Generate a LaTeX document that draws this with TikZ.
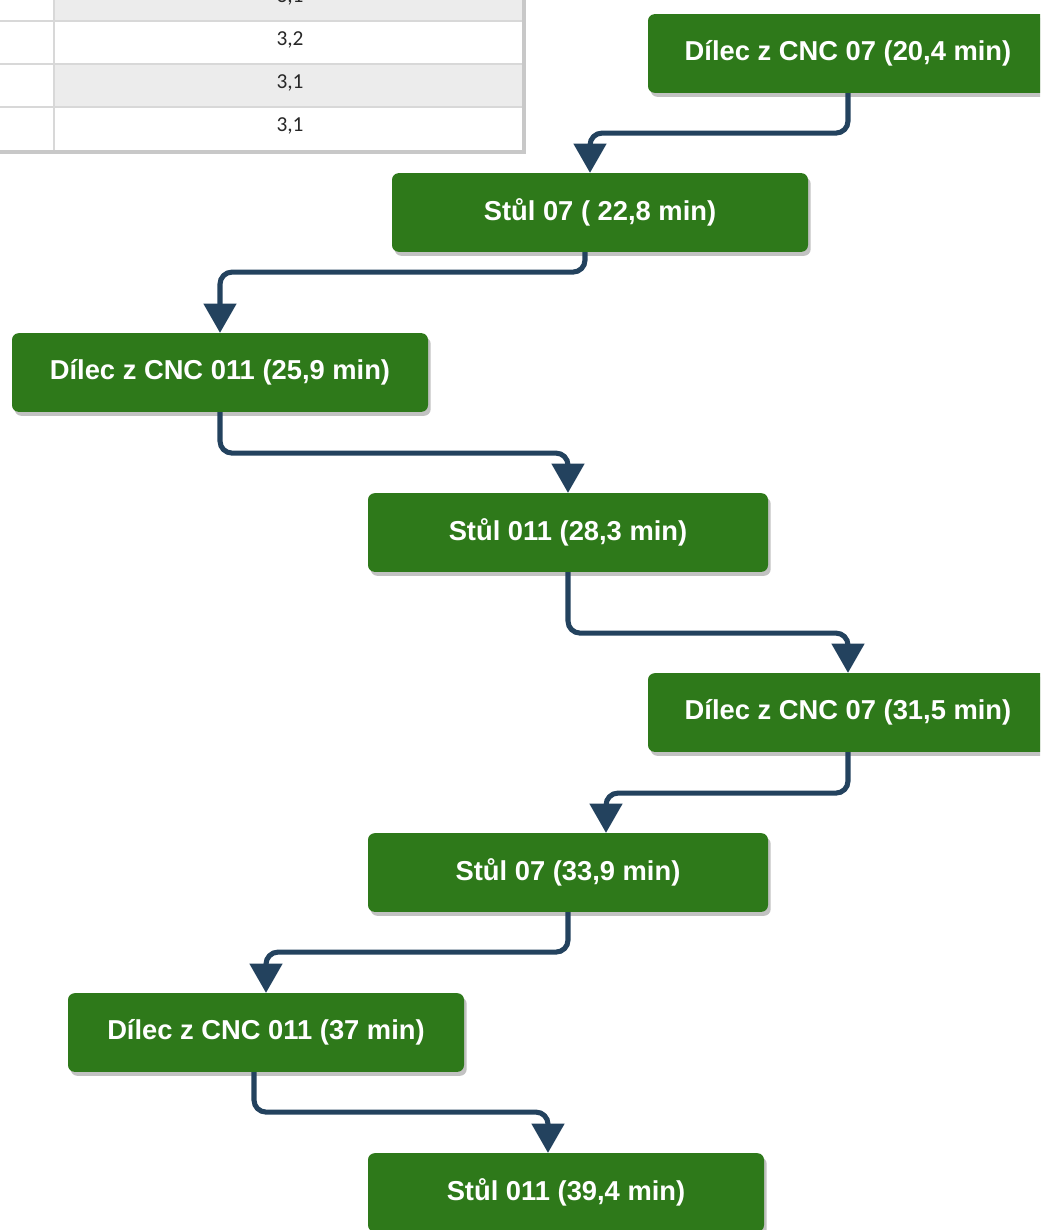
\documentclass[tikz,border=0pt]{standalone}
\usepackage{fontspec}
\setsansfont{Liberation Sans}
\newfontfamily\tablefont{Carlito}
\usetikzlibrary{arrows.meta,shadows}
\definecolor{boxgreen}{RGB}{46,121,26}
\definecolor{flowblue}{RGB}{35,66,94}
\definecolor{rowgray}{RGB}{236,236,236}
\definecolor{gridgray}{RGB}{216,216,216}
\definecolor{framegray}{RGB}{200,200,200}
\definecolor{celltext}{RGB}{40,40,40}
\tikzset{
  stepbox/.style={fill=boxgreen, rounded corners=5pt, text=white,
    minimum height=59pt, inner sep=0pt,
    font=\sffamily\bfseries\fontsize{20.5}{24}\selectfont,
    drop shadow={shadow xshift=2pt, shadow yshift=-3pt, fill=black!40, opacity=0.6}},
  flow/.style={draw=flowblue, line width=3.8pt, rounded corners=9pt,
    -{Triangle[width=24pt,length=22pt]}},
  cell/.style={text=celltext, font=\tablefont\fontsize{16}{19}\selectfont}
}
\begin{document}
\begin{tikzpicture}[x=0.75pt,y=-0.75pt]
\useasboundingbox (0,0) rectangle (1040,1230);
\clip (0,0) rectangle (1040,1230);
% table (cut off)
\fill[white] (0,-30) rectangle (522,150);
\fill[rowgray] (54,-30) rectangle (522,21);
\fill[rowgray] (54,64) rectangle (522,107);
\draw[gridgray, line width=1.2pt] (0,21) -- (522,21) (0,64) -- (522,64) (0,107) -- (522,107);
\draw[gridgray, line width=1.2pt] (54,-30) -- (54,150);
\draw[framegray, line width=3.5pt] (0,152) -- (524,152) -- (524,-30);
\node[cell] (c0) at (290,-3) {3,1};
\node[cell] (c1) at (290,40) {3,2};
\node[cell] (c2) at (290,83) {3,1};
\node[cell] (c3) at (290,126) {3,1};
% steps
\node[stepbox, minimum width=300pt] (d1) at (848,53.5) {Dílec z CNC 07 (20,4 min)};
\node[stepbox, minimum width=312pt] (s1) at (600,212.5) {Stůl 07 ( 22,8 min)};
\node[stepbox, minimum width=312pt] (d2) at (220,372.5) {Dílec z CNC 011 (25,9 min)};
\node[stepbox, minimum width=300pt] (s2) at (568,532.5) {Stůl 011 (28,3 min)};
\node[stepbox, minimum width=300pt] (d3) at (848,712.5) {Dílec z CNC 07 (31,5 min)};
\node[stepbox, minimum width=300pt] (s3) at (568,872.5) {Stůl 07 (33,9 min)};
\node[stepbox, minimum width=297pt] (d4) at (266,1032.5) {Dílec z CNC 011 (37 min)};
\node[stepbox, minimum width=297pt] (s4) at (566,1192.5) {Stůl 011 (39,4 min)};
% connectors
\draw[flow] (d1.south) -- ++(0,40) -| ([shift={(-10,0)}]s1.north);
\draw[flow] ([shift={(-15,0)}]s1.south) -- ++(0,20) -| (d2.north);
\draw[flow] (d2.south) -- ++(0,41) -| (s2.north);
\draw[flow] (s2.south) -- ++(0,61) -| (d3.north);
\draw[flow] (d3.south) -- ++(0,41) -| ([shift={(38,0)}]s3.north);
\draw[flow] (s3.south) -- ++(0,40) -| (d4.north);
\draw[flow] ([shift={(-12,0)}]d4.south) -- ++(0,40) -| ([shift={(-18,0)}]s4.north);
\end{tikzpicture}
\end{document}
